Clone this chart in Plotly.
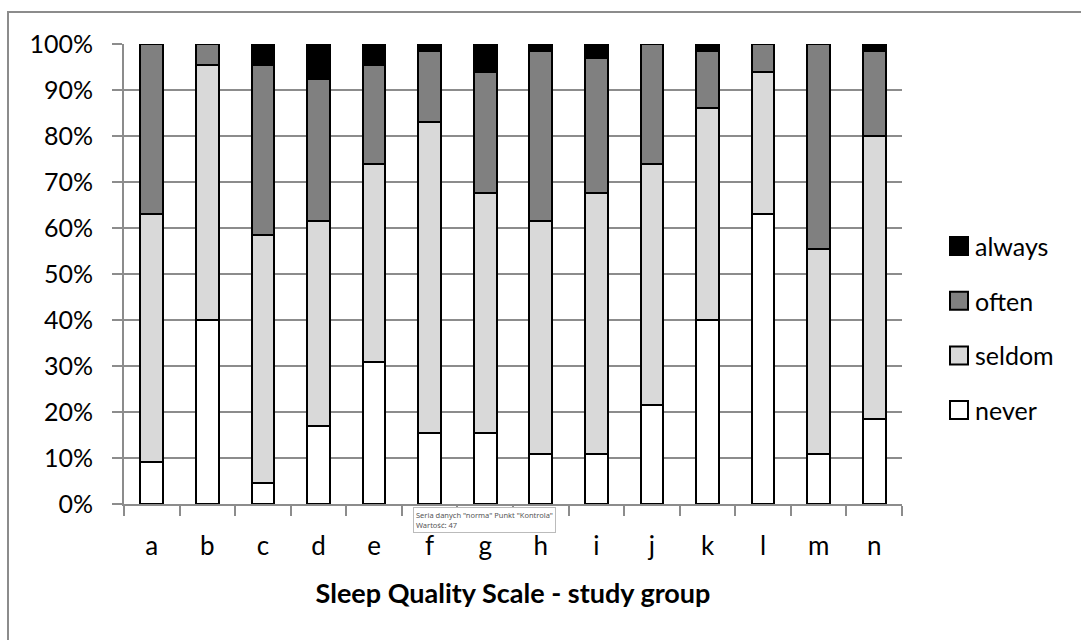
import plotly.graph_objects as go

# Respondent counts per group (each group n = 65)
groups = ["a", "b", "c", "d", "e", "f", "g", "h", "i", "j", "k", "l", "m", "n"]
never = [6, 26, 3, 11, 20, 10, 10, 7, 7, 14, 26, 41, 7, 12]
seldom = [35, 36, 35, 29, 28, 44, 34, 33, 37, 34, 30, 20, 29, 40]
often = [24, 3, 24, 20, 14, 10, 17, 24, 19, 17, 8, 4, 29, 12]
always = [0, 0, 3, 5, 3, 1, 4, 1, 2, 0, 1, 0, 0, 1]

y_ticks = [0, 10, 20, 30, 40, 50, 60, 70, 80, 90, 100]
y_tick_text = [f"{v}%" for v in y_ticks]

FONT = "Lato, Carlito, Calibri, sans-serif"
GRID = "#8c8c8c"

W, H = 1081, 640
L, R, T, B = 124, 179, 44, 136
PW, PH = W - L - R, H - T - B


def px_x(x):
    return (x - L) / PW


def px_y(y):
    return (H - B - y) / PH


series = [
    ("never", never, "#ffffff"),
    ("seldom", seldom, "#d9d9d9"),
    ("often", often, "#808080"),
    ("always", always, "#000000"),
]

fig = go.Figure()
for name, vals, color in series:
    fig.add_trace(go.Bar(
        x=groups, y=vals, name=name,
        marker=dict(color=color, line=dict(color="#000000", width=2)),
        width=0.41, showlegend=False,
    ))

fig.update_layout(
    width=W, height=H,
    barmode="stack", barnorm="percent",
    paper_bgcolor="#ffffff", plot_bgcolor="#ffffff",
    margin=dict(l=L, r=R, t=T, b=B),
    font=dict(family=FONT, size=25, color="#000000"),
    xaxis=dict(
        type="category", tickson="boundaries",
        ticks="outside", ticklen=10, tickcolor=GRID, tickwidth=2,
        showline=True, linecolor=GRID, linewidth=2,
        showgrid=False, zeroline=False,
        tickfont=dict(family=FONT, size=26),
        ticklabelstandoff=18,
        title=dict(text="<b>Sleep Quality Scale - study group</b>",
                   font=dict(family=FONT, size=27), standoff=24),
    ),
    yaxis=dict(
        range=[0, 100], tickvals=y_ticks, ticktext=y_tick_text,
        ticks="outside", ticklen=10, tickcolor=GRID, tickwidth=2,
        showline=True, linecolor=GRID, linewidth=2,
        showgrid=True, gridcolor=GRID, gridwidth=2,
        zeroline=False,
        tickfont=dict(family=FONT, size=25),
        ticklabelstandoff=14,
    ),
)

# Legend: top entry is the last stacked series
leg_top, leg_step = 246, 54.7
for i, (name, _, color) in enumerate(reversed(series)):
    cy = leg_top + i * leg_step
    fig.add_shape(
        type="rect", xref="paper", yref="paper",
        x0=px_x(950), x1=px_x(968), y0=px_y(cy + 9), y1=px_y(cy - 9),
        fillcolor=color, line=dict(color="#000000", width=2),
    )
    fig.add_annotation(
        xref="paper", yref="paper", x=px_x(973), y=px_y(cy),
        xanchor="left", yanchor="middle", text=name, showarrow=False,
        font=dict(family=FONT, size=25, color="#000000"),
    )

# Outer chart frame
fig.add_shape(
    type="rect", xref="paper", yref="paper",
    x0=px_x(8), x1=px_x(1100), y0=px_y(660), y1=px_y(12),
    line=dict(color="#8c8c8c", width=2), fillcolor="rgba(0,0,0,0)",
    layer="below",
)

# Hover tooltip captured on the chart
fig.add_annotation(
    xref="paper", yref="paper", x=px_x(413), y=px_y(507),
    xanchor="left", yanchor="top",
    text='Seria danych "norma" Punkt "Kontrola"<br>Wartość: 47',
    showarrow=False, align="left",
    font=dict(family="Noto Sans, sans-serif", size=7.5, color="#555555"),
    bgcolor="#ffffff", bordercolor="#bbbbbb", borderwidth=1, borderpad=2,
)

fig.write_html("out.html")
